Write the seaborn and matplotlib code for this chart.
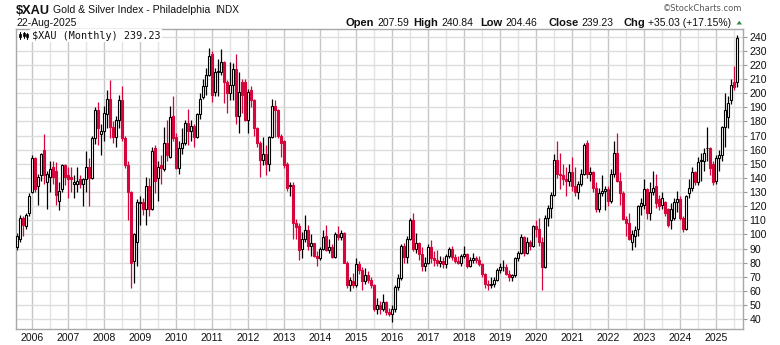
import numpy as np
import pandas as pd
import matplotlib
matplotlib.use("Agg")
import matplotlib.pyplot as plt
from matplotlib.lines import Line2D
from matplotlib.patches import Polygon, Rectangle
import seaborn as sns

# Monthly OHLC of the Philadelphia Gold & Silver Index, Aug 2005 .. Aug 2025
first_month = "2005-08"
opens = [
    91, 97, 112, 106, 115,
    130, 154, 134, 142, 160, 137, 141, 148, 145, 124, 132, 149,
    142, 141, 136, 136, 139, 136, 139, 148, 140, 168, 188, 171,
    173, 185, 196, 176, 169, 181, 195, 168, 149, 130, 81, 95,
    122, 123, 118, 134, 118, 161, 140, 149, 146, 165, 155, 184,
    169, 147, 161, 165, 179, 173, 177, 169, 185, 197, 205, 213,
    228, 201, 215, 215, 222, 208, 200, 206, 217, 184, 208, 208,
    181, 202, 195, 175, 165, 153, 157, 150, 169, 191, 188, 170,
    166, 150, 134, 135, 108, 106, 90, 97, 103, 92, 94, 85,
    83, 90, 99, 89, 91, 84, 100, 98, 101, 80, 64, 67,
    64, 79, 75, 67, 71, 68, 64, 47, 50, 47, 52, 45,
    44, 47, 63, 69, 92, 84, 97, 110, 90, 94, 86, 78,
    80, 91, 83, 82, 80, 81, 79, 85, 90, 84, 81, 80,
    85, 86, 78, 82, 83, 82, 79, 72, 65, 64, 65, 68,
    75, 77, 77, 72, 70, 71, 83, 87, 98, 87, 95, 92,
    106, 104, 95, 77, 112, 119, 128, 153, 143, 142, 139, 138,
    144, 134, 130, 136, 143, 165, 143, 144, 133, 118, 129, 131,
    132, 124, 143, 158, 138, 129, 111, 108, 95, 99, 104, 120,
    121, 132, 115, 130, 134, 125, 121, 123, 118, 110, 112, 123,
    125, 112, 104, 129, 133, 144, 137, 152, 152, 161, 161, 150,
    138, 154, 156, 176, 183, 195, 208, 207.59,
]
highs = [
    101, 114, 113, 115, 129,
    156, 155, 143, 158, 171, 145, 152, 152, 151, 137, 150, 150,
    148, 148, 142, 148, 142, 140, 159, 154, 170, 190, 194, 178,
    191, 202, 209, 180, 184, 199, 205, 170, 152, 131, 101, 125,
    127, 126, 141, 140, 162, 163, 152, 156, 176, 181, 191, 198,
    172, 166, 175, 181, 189, 181, 178, 186, 200, 210, 218, 232,
    230, 218, 224, 231, 223, 209, 222, 221, 228, 215, 210, 210,
    203, 205, 196, 176, 166, 169, 163, 170, 196, 195, 189, 171,
    167, 151, 137, 137, 111, 108, 102, 114, 107, 100, 94, 88,
    91, 103, 107, 97, 93, 102, 106, 103, 102, 81, 70, 73,
    83, 81, 77, 76, 74, 70, 65, 55, 53, 58, 53, 48,
    50, 64, 72, 93, 94, 99, 112, 115, 101, 95, 91, 84,
    93, 96, 88, 89, 85, 84, 86, 91, 92, 86, 85, 86,
    92, 87, 84, 87, 85, 85, 80, 73, 68, 70, 70, 76,
    80, 82, 79, 75, 72, 84, 88, 100, 99, 98, 96, 107,
    110, 112, 98, 114, 121, 130, 157, 166, 158, 150, 148, 150,
    155, 148, 138, 146, 165, 167, 148, 145, 137, 133, 142, 134,
    134, 146, 166, 172, 144, 131, 113, 115, 103, 106, 121, 126,
    139, 133, 137, 145, 143, 128, 130, 124, 119, 122, 126, 131,
    127, 113, 128, 139, 148, 145, 155, 158, 161, 176, 162, 152,
    156, 160, 177, 200, 198, 210, 219, 240.84,
]
lows = [
    89, 95, 99, 104, 113,
    129, 130, 121, 138, 136, 118, 130, 136, 121, 117, 130, 135,
    126, 130, 126, 130, 133, 120, 130, 120, 139, 164, 163, 156,
    166, 175, 168, 165, 162, 175, 166, 147, 110, 62, 66, 78,
    107, 114, 107, 113, 117, 129, 124, 136, 145, 152, 154, 166,
    146, 143, 157, 163, 163, 166, 162, 168, 182, 196, 199, 212,
    194, 198, 198, 213, 193, 186, 195, 195, 178, 172, 186, 180,
    172, 190, 170, 162, 141, 149, 142, 145, 168, 169, 168, 155,
    147, 131, 127, 97, 97, 82, 83, 95, 89, 85, 84, 78,
    82, 89, 88, 87, 83, 83, 96, 96, 80, 62, 60, 62,
    63, 72, 61, 65, 66, 62, 46, 44, 44, 46, 43, 42,
    38, 45, 61, 68, 80, 80, 96, 88, 87, 82, 74, 74,
    79, 80, 78, 78, 77, 76, 76, 83, 82, 80, 79, 78,
    83, 76, 77, 80, 80, 78, 70, 62, 61, 62, 63, 67,
    73, 74, 71, 67, 67, 70, 81, 86, 85, 86, 89, 91,
    98, 92, 61, 76, 106, 112, 127, 140, 132, 135, 127, 134,
    131, 127, 125, 134, 142, 140, 138, 130, 116, 116, 127, 117,
    120, 122, 141, 137, 121, 110, 99, 96, 89, 91, 99, 114,
    118, 111, 110, 128, 119, 117, 118, 113, 105, 104, 110, 116,
    110, 102, 103, 126, 131, 135, 135, 138, 145, 152, 142, 135,
    136, 145, 152, 162, 175, 192, 202, 204.46,
]
closes = [
    99, 112, 107, 114, 127,
    154, 132, 141, 157, 142, 143, 146, 141, 128, 131, 149, 141,
    139, 139, 137, 138, 136, 139, 148, 140, 168, 188, 175, 173,
    186, 196, 176, 169, 181, 195, 168, 149, 130, 80, 100, 123,
    123, 118, 134, 118, 159, 138, 148, 147, 165, 156, 183, 168,
    147, 161, 165, 179, 173, 177, 169, 185, 196, 205, 213, 226,
    199, 215, 216, 222, 208, 200, 206, 217, 184, 201, 199, 181,
    201, 195, 175, 165, 153, 157, 150, 169, 191, 188, 170, 165,
    149, 133, 135, 108, 105, 89, 97, 103, 92, 94, 85, 83,
    90, 98, 89, 91, 84, 100, 98, 101, 80, 64, 68, 64,
    79, 75, 67, 71, 68, 64, 47, 50, 47, 52, 45, 44,
    47, 63, 69, 92, 84, 97, 110, 90, 94, 86, 78, 80,
    91, 83, 82, 80, 81, 79, 85, 90, 84, 81, 80, 85,
    86, 78, 82, 83, 82, 79, 72, 65, 64, 65, 68, 75,
    77, 77, 72, 70, 71, 83, 87, 98, 87, 95, 92, 106,
    104, 95, 77, 112, 119, 128, 153, 143, 142, 139, 138, 144,
    134, 130, 136, 143, 163, 143, 144, 133, 118, 129, 131, 132,
    124, 143, 158, 138, 129, 111, 108, 97, 100, 103, 120, 122,
    132, 115, 130, 133, 122, 120, 126, 115, 107, 118, 123, 125,
    112, 104, 127, 133, 144, 137, 151, 153, 158, 161, 147, 137,
    154, 156, 176, 188, 193, 206, 204.20, 239.23,
]
year_labels = [str(y) for y in range(2006, 2026)]
price_ticks = list(range(40, 250, 10))

months = pd.period_range(first_month, periods=len(closes), freq="M")
df = pd.DataFrame({
    "pos": [(p.year - 2006) * 12 + p.month - 1 for p in months],
    "open": opens, "high": highs, "low": lows, "close": closes,
})
df["up"] = df["close"] >= df["open"]

sns.set_theme(style="white")
plt.rcParams["font.family"] = ["Liberation Sans", "DejaVu Sans"]

W, H = 780, 345
fig = plt.figure(figsize=(W / 100, H / 100), dpi=100)
fig.patch.set_facecolor("white")


def fx(px):
    return px / W


def fy(py):
    return 1 - py / H


ax = fig.add_axes([fx(16.3), fy(329.3), (742.7 - 16.3) / W, (329.3 - 29) / H])
ax.set_facecolor("white")

RED = "#d5063c"
wick_colors = np.where(df["up"], "black", RED)
body_face = np.where(df["up"], "white", RED)
body_edge = np.where(df["up"], "black", RED)

ax.vlines(df["pos"], df["low"], df["high"], colors=wick_colors,
          linewidth=0.9, zorder=2)
ax.bar(df["pos"], (df["close"] - df["open"]).abs(),
       bottom=np.minimum(df["open"], df["close"]), width=0.62,
       color=body_face, edgecolor=body_edge, linewidth=0.8, zorder=3)

ax.set_xlim(-5.33, 236.8)
ax.set_ylim(32.9, 245.4)

year_pos = [(int(y) - 2006) * 12 for y in year_labels]
ax.set_xticks(year_pos)
ax.set_xticklabels(year_labels)
ax.set_xticks([p + 6 for p in year_pos], minor=True)
ax.set_yticks(price_ticks)
ax.yaxis.tick_right()

ax.grid(which="major", axis="x", color="#c6c6c6", linewidth=1.0, zorder=0)
ax.grid(which="minor", axis="x", color="#e3e3e3", linewidth=1.0, zorder=0)
ax.grid(which="major", axis="y", color="#dcdcdc", linewidth=1.0, zorder=0)
ax.set_axisbelow(True)

ax.tick_params(axis="x", which="both", length=0, pad=2.5, labelsize=7.6,
               labelcolor="#111111")
ax.tick_params(axis="y", which="major", length=3, width=0.8, color="#9a9a9a",
               pad=2, labelsize=7.6, labelcolor="#111111", right=True, left=False)
for sp in ax.spines.values():
    sp.set_color("#a8a8a8")
    sp.set_linewidth(1.0)

# legend line inside the plot
fig.text(fx(31.5), fy(38.8), "$XAU (Monthly) 239.23", family="DejaVu Sans Mono",
         fontsize=7.3, color="#111111", va="baseline", ha="left",
         bbox=dict(facecolor="white", edgecolor="none", pad=1.2), zorder=10)
fig.add_artist(Rectangle((fx(17.5), fy(40.5)), fx(13), (40.5 - 31) / H,
                         transform=fig.transFigure, facecolor="white",
                         edgecolor="none", zorder=9))
for x0, top, bot, btop, bbot in [(20, 32, 38.5, 33.5, 36.5),
                                 (23.5, 31.5, 38, 33, 35.5),
                                 (27, 32.5, 38.5, 34, 37)]:
    fig.add_artist(Line2D([fx(x0), fx(x0)], [fy(top), fy(bot)],
                          transform=fig.transFigure, color="black",
                          linewidth=0.8, zorder=11))
    fig.add_artist(Rectangle((fx(x0 - 1), fy(bbot)), fx(2), (bbot - btop) / H,
                             transform=fig.transFigure, facecolor="black",
                             edgecolor="black", linewidth=0.5, zorder=11))

# title block
fig.text(fx(16), fy(13.5), "$XAU", fontsize=9.2, fontweight="bold",
         color="#111111", va="baseline", ha="left")
fig.text(fx(53.3), fy(12.8), "Gold & Silver Index - Philadelphia",
         fontsize=7.6, color="#111111", va="baseline", ha="left")
fig.text(fx(215), fy(12.8), "INDX", fontsize=7.2, color="#111111",
         va="baseline", ha="left")
fig.text(fx(16), fy(26.4), "22-Aug-2025", fontsize=7.5, color="#111111",
         va="baseline", ha="left")
fig.text(fx(742), fy(11.3), "\u00a9StockCharts.com", family="DejaVu Sans",
         fontsize=6.0, color="#555555", va="baseline", ha="right")

renderer = fig.canvas.get_renderer()
quote = [("Open", "207.59", 345.7), ("High", "240.84", 413.3),
         ("Low", "204.46", 480.0), ("Close", "239.23", 548.3),
         ("Chg", "+35.03 (+17.15%)", 623.3)]
for label, value, x0 in quote:
    t = fig.text(fx(x0), fy(26.4), label, fontsize=8.0, fontweight="bold",
                 color="#111111", va="baseline", ha="left")
    bb = t.get_window_extent(renderer=renderer)
    fig.text(fx(bb.x1 + 3), fy(26.4), value,
             fontsize=7.5, color="#111111", va="baseline", ha="left")

fig.add_artist(Polygon([[fx(736.5), fy(24.5)], [fx(742), fy(24.5)],
                        [fx(739.25), fy(20.8)]], closed=True,
                       transform=fig.transFigure, facecolor="#2e8b3a",
                       edgecolor="none"))

fig.savefig("out.png", dpi=100)
